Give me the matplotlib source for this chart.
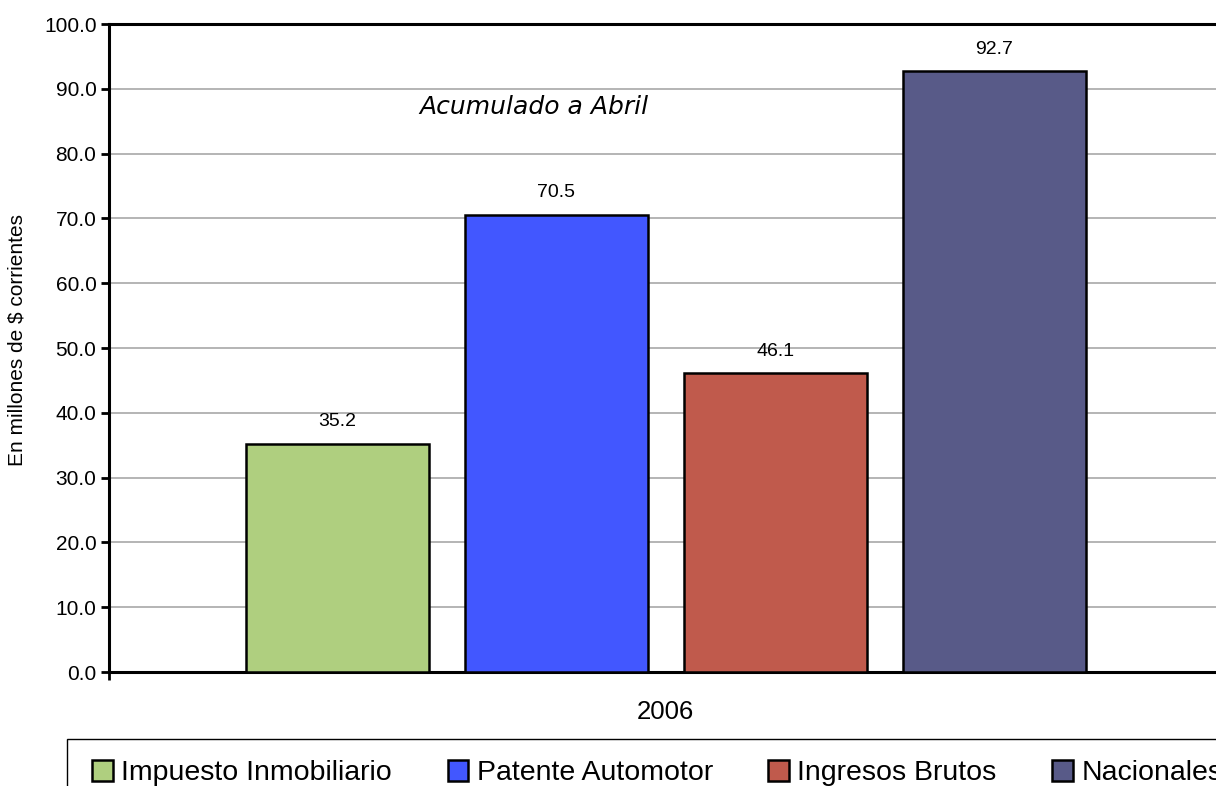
import matplotlib
matplotlib.use('Agg')
import matplotlib.pyplot as plt
from matplotlib.patches import Patch, Rectangle

plt.rcParams['font.family'] = ['Liberation Sans', 'DejaVu Sans']

series = ['Impuesto Inmobiliario', 'Patente Automotor', 'Ingresos Brutos', 'Nacionales']
values = [35.2, 70.5, 46.1, 92.7]
colors = ['#AFCF7F', '#4257FF', '#C05A4C', '#585A88']
category = '2006'
yticks = [0, 10, 20, 30, 40, 50, 60, 70, 80, 90, 100]

W, H = 1216, 786
fig = plt.figure(figsize=(W/100, H/100), dpi=100)
ax = fig.add_axes([109/W, 114/H, 1113/W, 648/H])

xpos = list(range(len(values)))
bars = ax.bar(xpos, values, width=0.836, color=colors, edgecolor='black', linewidth=1.8, zorder=3)

for b, v in zip(bars, values):
    ax.annotate(f'{v:.1f}', (b.get_x() + b.get_width()/2, v), xytext=(0, 16),
                textcoords='offset points', ha='center', va='center', fontsize=14)

ax.set_xlim(-1.043, 4.04)
ax.set_ylim(0, 100)
ax.set_yticks(yticks)
ax.set_yticklabels([f'{t:.1f}' for t in yticks], fontsize=15)
ax.yaxis.grid(True, color='#b4b4b4', linewidth=1.4, zorder=0)
ax.set_axisbelow(True)

# edge tick of the category axis
ax.set_xticks([-1.043])
ax.set_xticklabels([''])
ax.tick_params(axis='both', direction='out', length=6, width=2, color='black')
ax.tick_params(axis='y', pad=3)

for s in ax.spines.values():
    s.set_linewidth(2.2)
    s.set_color('black')

ax.text(0.5, -0.062, category, transform=ax.transAxes, ha='center', va='center', fontsize=18.5)
fig.text(17/W, 1 - 340/H, 'En millones de $ corrientes', rotation=90,
         ha='center', va='center', fontsize=15)

fig.text(534/W, 1 - 107/H, 'Acumulado a Abril', ha='center', va='center',
         fontsize=18, style='italic', family='DejaVu Sans')

# legend box runs off the bottom/right edge like the original
fig.patches.append(Rectangle((67/W, -0.1), 1.0, 1 - 739/H + 0.1, transform=fig.transFigure,
                             facecolor='none', edgecolor='black', linewidth=1.0))
handles = [Patch(facecolor=c, edgecolor='black', linewidth=1.8) for c in colors]
leg = fig.legend(handles, series, loc='upper left', bbox_to_anchor=(78/W, 1 - 746/H),
                 ncol=4, fontsize=20.5, frameon=False, borderaxespad=0,
                 handlelength=0.72, handleheight=0.72, handletextpad=0.3,
                 columnspacing=1.95, borderpad=0.5)

fig.savefig('out.png', dpi=100)
